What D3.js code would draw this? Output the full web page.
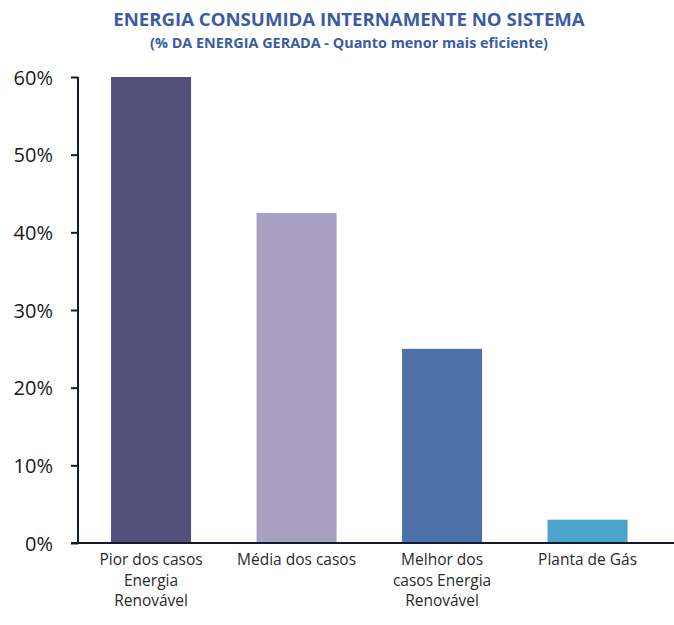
<!DOCTYPE html>
<html>
<head>
<meta charset="utf-8">
<script src="https://cdn.jsdelivr.net/npm/d3@7"></script>
<style>
  body { margin: 0; background: #fff; }
  text { font-family: "Open Sans", "Noto Sans", sans-serif; }
</style>
</head>
<body>
<div class="chart"></div>
<script>
// values
var categories = [["Pior dos casos", "Energia", "Renovável"], ["Média dos casos"], ["Melhor dos", "casos Energia", "Renovável"], ["Planta de Gás"]];
var values = [60, 42.5, 25, 3];
var colors = ["#524f7b", "#a8a0c3", "#4e70a8", "#4ca4c8"];
var yTicks = [0, 10, 20, 30, 40, 50, 60];

var width = 674, height = 625;
var svg = d3.select(".chart").append("svg").attr("width", width).attr("height", height);

var x = d3.scaleBand().domain(d3.range(values.length)).range([78, 660.6]).paddingInner(0.45).paddingOuter(0.227);
var y = d3.scaleLinear().domain([0, 60]).range([543, 77]);

// title
svg.append("text").attr("x", 349).attr("y", 26).attr("text-anchor", "middle")
  .style("font-size", "18.6px").style("font-weight", "bold").style("fill", "#3b5ba5")
  .text("ENERGIA CONSUMIDA INTERNAMENTE NO SISTEMA");
svg.append("text").attr("x", 349).attr("y", 48).attr("text-anchor", "middle")
  .style("font-size", "14.4px").style("font-weight", "bold").style("fill", "#3b5ba5")
  .text("(% DA ENERGIA GERADA - Quanto menor mais eficiente)");

// bars
svg.selectAll(".bar").data(values).enter().append("rect").attr("class", "bar")
  .attr("x", function(d, i){ return x(i); })
  .attr("y", function(d){ return y(d); })
  .attr("width", x.bandwidth())
  .attr("height", function(d){ return y(0) - y(d); })
  .style("fill", function(d, i){ return colors[i]; });

// y axis
var yAxis = svg.append("g").attr("transform", "translate(78,0)")
  .call(d3.axisLeft(y).tickValues(yTicks).tickSize(7).tickFormat(function(d){ return d + "%"; }));
yAxis.select(".domain").attr("stroke", "#141a2e").attr("stroke-width", 2).attr("d", "M0,77V543");
yAxis.selectAll(".tick line").attr("stroke", "#141a2e").attr("stroke-width", 2);
yAxis.selectAll(".tick text").attr("x", -25).style("font-size", "20px").style("fill", "#1a1a1a")
  .style("font-family", "'Open Sans', sans-serif").attr("dy", "0.35em");

// x axis line
svg.append("line").attr("x1", 71).attr("x2", width).attr("y1", y(0)).attr("y2", y(0))
  .attr("stroke", "#141a2e").attr("stroke-width", 2);

// category labels
var labels = svg.selectAll(".cat").data(categories).enter().append("text").attr("class", "cat")
  .attr("text-anchor", "middle")
  .attr("transform", function(d, i){ return "translate(" + (x(i) + x.bandwidth() / 2) + ",565)"; })
  .style("font-size", "15.5px").style("fill", "#2a2a2a");
labels.selectAll("tspan").data(function(d){ return d; }).enter().append("tspan")
  .attr("x", 0).attr("dy", function(d, i){ return i === 0 ? 0 : 20.5; })
  .text(function(d){ return d; });
</script>
</body>
</html>
